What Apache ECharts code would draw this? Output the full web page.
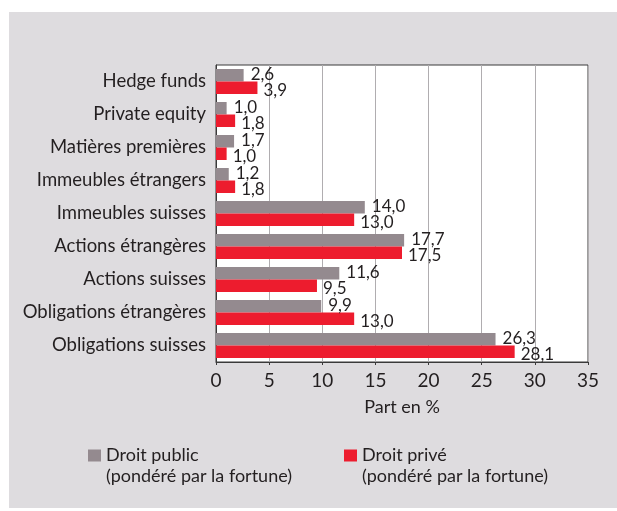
<!DOCTYPE html>
<html>
<head>
<meta charset="utf-8">
<script src="https://cdn.jsdelivr.net/npm/echarts@6/dist/echarts.min.js"></script>
<style>
  html, body { margin: 0; padding: 0; background: #fff; }
  #chart { width: 617px; height: 511px; }
</style>
</head>
<body>
<div id="chart"></div>
<script>
// categories listed bottom -> top (category axis starts at the bottom)
var categories = [
  'Obligations suisses',
  'Obligations étrangères',
  'Actions suisses',
  'Actions étrangères',
  'Immeubles suisses',
  'Immeubles étrangers',
  'Matières premières',
  'Private equity',
  'Hedge funds'
]
var publicValues = [26.3, 9.9, 11.6, 17.7, 14.0, 1.2, 1.7, 1.0, 2.6]
var privateValues = [28.1, 13.0, 9.5, 17.5, 13.0, 1.8, 1.0, 1.8, 3.9]
var xTicks = [0, 5, 10, 15, 20, 25, 30, 35]

var PUBLIC_NAME = 'Droit public\n(pondéré par la fortune)'
var PRIVATE_NAME = 'Droit privé\n(pondéré par la fortune)'
var FONT = 'Lato'
var INK = '#231f20'

function fmt(p) {
  return p.value.toFixed(1).replace('.', ',')
}

// blank first line so the marker lines up with the first text line
function legendFmt(name) {
  return ' \n' + name
}

var legendText = {
  color: INK,
  fontFamily: FONT,
  fontSize: 18,
  lineHeight: 21
}

var chart = echarts.init(document.getElementById('chart'))

chart.setOption({
  animation: false,
  backgroundColor: '#fff',
  textStyle: { fontFamily: FONT, color: INK },
  graphic: [{
    type: 'rect',
    z: -10,
    silent: true,
    shape: { x: 9, y: 12, width: 608, height: 496 },
    style: { fill: '#dedcdf' }
  }],
  grid: {
    left: 216,
    right: 29,
    top: 65,
    bottom: 149,
    show: true,
    backgroundColor: '#fff',
    borderColor: '#3a3a3a',
    borderWidth: 1
  },
  legend: [{
    left: 83,
    top: 419,
    itemWidth: 13,
    itemHeight: 12,
    itemGap: 0,
    icon: 'rect',
    data: [PUBLIC_NAME],
    formatter: legendFmt,
    textStyle: legendText
  }, {
    left: 339,
    top: 419,
    itemWidth: 13,
    itemHeight: 12,
    itemGap: 0,
    icon: 'rect',
    data: [PRIVATE_NAME],
    formatter: legendFmt,
    textStyle: legendText
  }],
  xAxis: {
    type: 'value',
    min: xTicks[0],
    max: xTicks[xTicks.length - 1],
    interval: 5,
    name: 'Part en %',
    nameLocation: 'middle',
    nameGap: 36,
    nameTextStyle: { color: INK, fontSize: 18, fontFamily: FONT },
    axisLine: { show: true, lineStyle: { color: '#3a3a3a' } },
    axisTick: { show: true, length: 3, lineStyle: { color: '#3a3a3a' } },
    axisLabel: { color: INK, fontSize: 19, margin: 9 },
    splitLine: { show: true, lineStyle: { color: '#b0adb0', width: 1 } }
  },
  yAxis: {
    type: 'category',
    data: categories,
    axisLine: { show: true, lineStyle: { color: '#3a3a3a' } },
    axisTick: { show: false },
    axisLabel: { color: INK, fontSize: 18.5, margin: 10 },
    splitLine: { show: false }
  },
  series: [{
    // first series sits on top within each band
    name: PUBLIC_NAME,
    type: 'bar',
    data: publicValues,
    itemStyle: { color: '#948a8f' },
    barWidth: 12.5,
    barGap: '0%',
    label: {
      show: true,
      position: 'right',
      distance: 7,
      offset: [0, -1],
      color: INK,
      fontSize: 17,
      formatter: fmt
    }
  }, {
    name: PRIVATE_NAME,
    type: 'bar',
    data: privateValues,
    itemStyle: { color: '#ed1c2e' },
    barWidth: 12.5,
    barGap: '0%',
    label: {
      show: true,
      position: 'right',
      distance: 6,
      offset: [0, 3],
      color: INK,
      fontSize: 17,
      formatter: fmt
    }
  }]
})
</script>
</body>
</html>
